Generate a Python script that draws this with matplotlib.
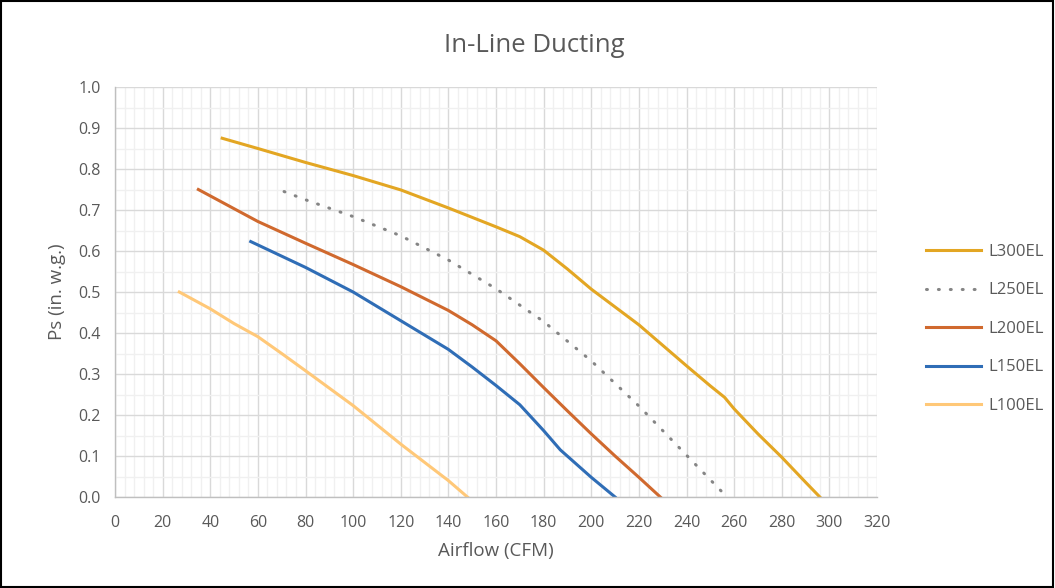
import numpy as np
import matplotlib.pyplot as plt
from matplotlib.patches import Rectangle
from matplotlib.ticker import MultipleLocator

plt.rcParams['font.family'] = ['Open Sans', 'DejaVu Sans']

# datos (CFM, in. w.g.)
x300 = [45, 60, 80, 100, 120, 140, 160, 170, 180, 190, 200, 220, 240, 250, 256, 260, 270, 280, 290, 296]
y300 = [0.875, 0.850, 0.816, 0.784, 0.749, 0.705, 0.659, 0.635, 0.602, 0.556, 0.507, 0.420, 0.320, 0.271, 0.243, 0.215, 0.154, 0.097, 0.036, 0.0]

x250 = [71, 80, 100, 120, 140, 160, 180, 200, 220, 240, 257]
y250 = [0.745, 0.725, 0.684, 0.637, 0.578, 0.508, 0.428, 0.332, 0.222, 0.102, 0.0]

x200 = [35, 60, 80, 100, 120, 140, 150, 160, 170, 180, 190, 200, 210, 220, 229]
y200 = [0.750, 0.672, 0.619, 0.567, 0.513, 0.455, 0.420, 0.381, 0.325, 0.267, 0.210, 0.154, 0.100, 0.048, 0.0]

x150 = [57, 80, 100, 120, 140, 150, 160, 170, 180, 187, 200, 210]
y150 = [0.623, 0.560, 0.500, 0.430, 0.360, 0.317, 0.272, 0.225, 0.162, 0.115, 0.048, 0.0]

x100 = [27, 40, 50, 60, 70, 80, 100, 120, 140, 148]
y100 = [0.500, 0.459, 0.423, 0.391, 0.350, 0.308, 0.223, 0.129, 0.040, 0.0]

series = ['L300EL', 'L250EL', 'L200EL', 'L150EL', 'L100EL']

fig = plt.figure(figsize=(10.55, 5.88), dpi=100)
ax = fig.add_axes([115/1055, 91/588, 762/1055, 410/588])

ax.plot(x300, y300, color='#E3A623', lw=2.2, label=series[0])
ax.plot(x250, y250, color='#858585', lw=2.2, linestyle=(0, (0.3, 3.6)),
        dash_capstyle='round', label=series[1])
ax.plot(x200, y200, color='#D0692E', lw=2.2, label=series[2])
ax.plot(x150, y150, color='#2F6DB6', lw=2.2, label=series[3])
ax.plot(x100, y100, color='#FFC878', lw=2.2, label=series[4])

ax.set_xlim(0, 320)
ax.set_ylim(0, 1.0)
ax.xaxis.set_major_locator(MultipleLocator(20))
ax.xaxis.set_minor_locator(MultipleLocator(4))
ax.yaxis.set_major_locator(MultipleLocator(0.1))
ax.yaxis.set_minor_locator(MultipleLocator(0.05))
ax.yaxis.set_major_formatter(plt.FuncFormatter(lambda v, p: '%.1f' % v))

ax.grid(which='major', color='#D9D9D9', lw=1.0)
ax.grid(which='minor', color='#F0F0F0', lw=1.0)
ax.set_axisbelow(True)
for s in ['top', 'right']:
    ax.spines[s].set_visible(False)
for s in ['left', 'bottom']:
    ax.spines[s].set_color('#BFBFBF')
    ax.spines[s].set_linewidth(1.0)
ax.tick_params(which='both', length=0, labelsize=11.5, colors='#595959')
ax.tick_params(axis='x', pad=13)
ax.tick_params(axis='y', pad=10)

ax.set_xlabel('Airflow (CFM)', fontsize=13.5, color='#595959', labelpad=8)
ax.set_ylabel('Ps (in. w.g.)', fontsize=13.5, color='#595959', labelpad=9)
fig.text(534/1055, 1 - 45/588, 'In-Line Ducting', ha='center', va='center',
         fontsize=18.5, color='#595959')

leg = ax.legend(loc='center left', bbox_to_anchor=(1.045, 0.41), frameon=False,
                fontsize=12, labelcolor='#595959', handlelength=3.3,
                labelspacing=1.35, handletextpad=0.4)

fig.patches.append(Rectangle((0.001, 0.002), 0.997, 0.996, transform=fig.transFigure,
                             fill=False, edgecolor='black', lw=1.5))

fig.savefig('out.png', dpi=100)
